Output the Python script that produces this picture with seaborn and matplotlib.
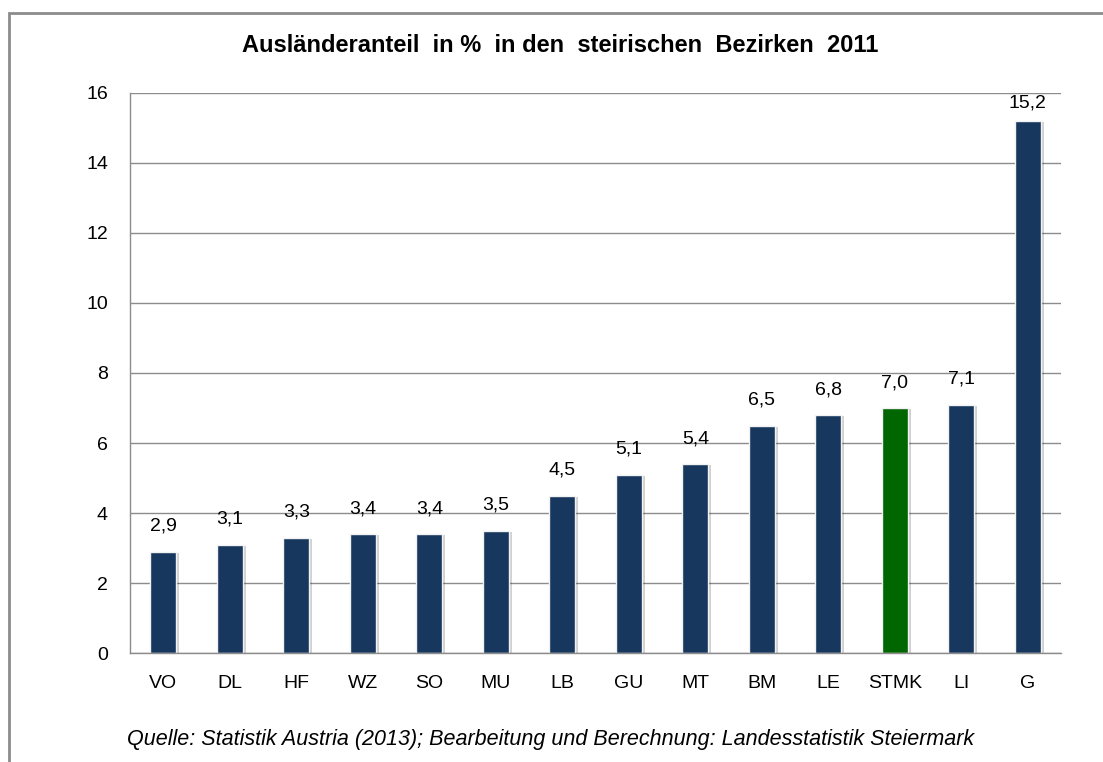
import matplotlib
matplotlib.use("Agg")
import matplotlib.pyplot as plt
import matplotlib.patheffects as pe
from matplotlib.patches import Rectangle
import seaborn as sns
import pandas as pd

# --- data ---
bezirke = ["VO", "DL", "HF", "WZ", "SO", "MU", "LB", "GU", "MT", "BM", "LE", "STMK", "LI", "G"]
anteil = [2.9, 3.1, 3.3, 3.4, 3.4, 3.5, 4.5, 5.1, 5.4, 6.5, 6.8, 7.0, 7.1, 15.2]
labels = ["2,9", "3,1", "3,3", "3,4", "3,4", "3,5", "4,5", "5,1", "5,4", "6,5", "6,8", "7,0", "7,1", "15,2"]

navy = "#17375e"
green = "#006600"
palette = {b: (green if b == "STMK" else navy) for b in bezirke}

df = pd.DataFrame({"Bezirk": bezirke, "Anteil": anteil})

sns.set_style("white")
plt.rcParams["font.family"] = ["Liberation Sans", "DejaVu Sans"]
plt.rcParams["text.color"] = "black"
plt.rcParams["xtick.labelcolor"] = "black"
plt.rcParams["ytick.labelcolor"] = "black"

fig = plt.figure(figsize=(11.03, 7.62), dpi=100)
ax = fig.add_axes([0.118, 0.143, 0.844, 0.735])

sns.barplot(data=df, x="Bezirk", y="Anteil", hue="Bezirk", palette=palette,
            legend=False, width=0.39, ax=ax, saturation=1,
            edgecolor="#f2f2f2", linewidth=1.0)

for bar in ax.patches:
    bar.set_path_effects([pe.SimplePatchShadow(offset=(2, -1), alpha=0.18, shadow_rgbFace="#000000"),
                          pe.Normal()])

# value labels (pushed down when they would leave the plot area)
for i, (v, t) in enumerate(zip(anteil, labels)):
    off = 12 if v < 14 else 7
    ax.annotate(t, (i, v), xytext=(0, off), textcoords="offset points",
                ha="center", va="bottom", fontsize=14, color="black")

ax.set_ylim(0, 16)
ax.set_xlim(-0.5, len(bezirke) - 0.5)
ax.set_yticks(range(0, 17, 2))
ax.yaxis.grid(True, color="#8c8c8c", linewidth=1)
ax.set_axisbelow(True)

for s in ["top", "right"]:
    ax.spines[s].set_visible(False)
for s in ["left", "bottom"]:
    ax.spines[s].set_color("#8c8c8c")
    ax.spines[s].set_linewidth(1)

# category ticks between bars
ax.set_xticks(range(len(bezirke)))
ax.set_xticklabels(bezirke, fontsize=14)
ax.tick_params(axis="x", length=0, pad=16)
ax.set_xticks([i - 0.5 for i in range(len(bezirke) + 1)], minor=True)
ax.tick_params(axis="x", which="minor", length=6, color="#8c8c8c", width=1)
ax.tick_params(axis="y", length=7, color="#8c8c8c", width=1, labelsize=14, pad=9)
ax.set_xlabel("")
ax.set_ylabel("")

fig.text(0.508, 0.94, "Ausländeranteil  in %  in den  steirischen  Bezirken  2011",
         ha="center", va="center", fontsize=17, fontweight="bold")
fig.text(0.115, 0.029, "Quelle: Statistik Austria (2013); Bearbeitung und Berechnung: Landesstatistik Steiermark",
         ha="left", va="center", fontsize=15.5, style="italic")

# chart border (cut off at right/bottom like the screenshot)
fig.patches.append(Rectangle((9 / 1103, -0.05), 1.2, 1.05 - 13 / 762,
                             transform=fig.transFigure, fill=False,
                             edgecolor="#8c8c8c", linewidth=2))

fig.savefig("out.png", dpi=100)
